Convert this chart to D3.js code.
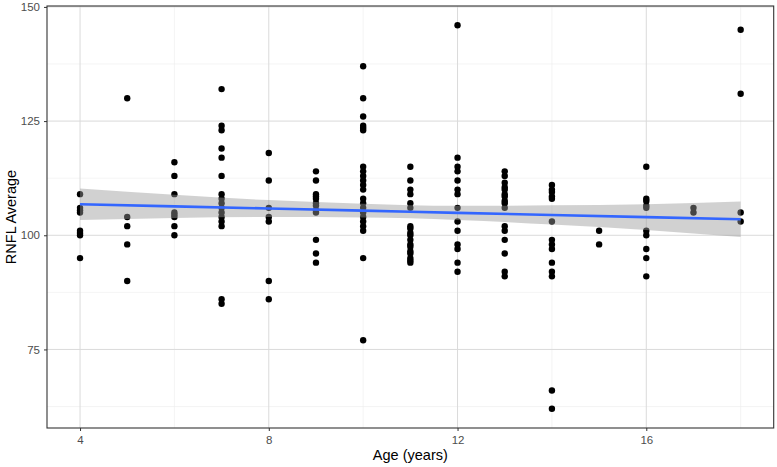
<!DOCTYPE html>
<html>
<head>
<meta charset="utf-8">
<script src="https://cdn.jsdelivr.net/npm/d3@7"></script>
<style>
  body { margin: 0; background: #fff; }
  svg { font-family: "Liberation Sans", Arial, sans-serif; }
</style>
</head>
<body>
<div id="chart"></div>
<script>
// RNFL average readings grouped by age (years)
const ages = [4, 5, 6, 7, 8, 9, 10, 11, 12, 13, 14, 15, 16, 17, 18];
const rnflByAge = [
  [109, 106, 105.5, 105, 101, 100.5, 100, 95],
  [130, 104, 102, 98, 90],
  [116, 113, 109, 105, 104.5, 104, 102, 100],
  [132, 124, 123, 119, 117, 113, 109, 108, 107, 106, 105, 104, 103, 102, 86, 85],
  [118, 112, 106, 104, 103, 90, 86],
  [114, 112, 109, 108.5, 108, 107, 106.5, 105.5, 105, 99, 96, 94],
  [137, 130, 126, 124, 123.5, 123, 115, 114, 113, 112, 111, 110, 108, 107, 106, 105, 104, 103, 102, 101, 95, 77],
  [115, 112, 110, 109, 107, 106, 102, 101.5, 100.5, 100, 99, 98, 97.5, 96.5, 96, 95, 94.5, 94],
  [146, 117, 115, 114, 112, 110, 109, 106, 103, 101, 98, 97, 94, 92],
  [114, 113, 111.5, 110.5, 110, 109, 108.5, 107.5, 107, 106, 102, 101, 99, 96, 92, 91],
  [111, 110, 109.5, 108.5, 108, 103, 99, 98, 97, 94, 92, 91, 66, 62],
  [101, 98],
  [115, 108, 107.5, 106.5, 106, 101, 100, 97, 95, 91],
  [106, 105],
  [145, 131, 105, 103]
];

// linear smooth (lm) and its 95% band
const fitAges = [4, 6, 8, 10, 11, 12, 14, 16, 18];
const fitValue = [106.8, 106.33, 105.86, 105.39, 105.15, 104.91, 104.44, 103.97, 103.5];
const fitLower = [103.35, 103.8, 104.0, 103.9, 103.7, 103.35, 102.35, 101.15, 99.6];
const fitUpper = [110.25, 108.85, 107.7, 106.9, 106.6, 106.45, 106.55, 106.8, 107.4];

const xTicks = [4, 8, 12, 16];
const xMinor = [6, 10, 14, 18];
const yTicks = [75, 100, 125, 150];
const yMinor = [62.5, 87.5, 112.5, 137.5];

const data = [];
ages.forEach((a, i) => rnflByAge[i].forEach(v => data.push({ age: a, rnfl: v })));
const fit = fitAges.map((a, i) => ({ x: a, y: fitValue[i], lo: fitLower[i], hi: fitUpper[i] }));

const W = 777, H = 467;
const margin = { top: 6, right: 3.3, bottom: 39, left: 47 };
const width = W - margin.left - margin.right;
const height = H - margin.top - margin.bottom;

const svg = d3.select("#chart").append("svg")
  .attr("width", W)
  .attr("height", H);

const g = svg.append("g")
  .attr("transform", `translate(${margin.left},${margin.top})`);

// ggplot-like expanded domains
const xr = d3.extent(data, d => d.age);
const yr = d3.extent(data, d => d.rnfl);
const xPad = (xr[1] - xr[0]) * 0.05, yPad = (yr[1] - yr[0]) * 0.05;

const x = d3.scaleLinear().domain([xr[0] - xPad, xr[1] + xPad]).range([0, width]);
const y = d3.scaleLinear().domain([yr[0] - yPad, yr[1] + yPad]).range([height, 0]);

// grid
g.selectAll(".ymin").data(yMinor).join("line")
  .attr("x1", 0).attr("x2", width)
  .attr("y1", d => y(d)).attr("y2", d => y(d))
  .attr("stroke", "#ececec").attr("stroke-width", 0.6);
g.selectAll(".xmin").data(xMinor).join("line")
  .attr("y1", 0).attr("y2", height)
  .attr("x1", d => x(d)).attr("x2", d => x(d))
  .attr("stroke", "#ececec").attr("stroke-width", 0.6);
g.selectAll(".ymaj").data(yTicks).join("line")
  .attr("x1", 0).attr("x2", width)
  .attr("y1", d => y(d)).attr("y2", d => y(d))
  .attr("stroke", "#dadada").attr("stroke-width", 1);
g.selectAll(".xmaj").data(xTicks).join("line")
  .attr("y1", 0).attr("y2", height)
  .attr("x1", d => x(d)).attr("x2", d => x(d))
  .attr("stroke", "#dadada").attr("stroke-width", 1);

// points
g.selectAll(".pt").data(data).join("circle")
  .attr("cx", d => x(d.age))
  .attr("cy", d => y(d.rnfl))
  .attr("r", 3.2)
  .attr("fill", "#000");

// smooth band + line
g.append("path")
  .datum(fit)
  .attr("fill", "#999999")
  .attr("fill-opacity", 0.45)
  .attr("d", d3.area().curve(d3.curveMonotoneX)
    .x(d => x(d.x)).y0(d => y(d.lo)).y1(d => y(d.hi)));

g.append("path")
  .datum(fit)
  .attr("fill", "none")
  .attr("stroke", "#3366FF")
  .attr("stroke-width", 2.6)
  .attr("d", d3.line().x(d => x(d.x)).y(d => y(d.y)));

// panel border
g.append("rect")
  .attr("width", width).attr("height", height)
  .attr("fill", "none").attr("stroke", "#333").attr("stroke-width", 1.1);

// axes
const xAxis = g.append("g")
  .attr("transform", `translate(0,${height})`)
  .call(d3.axisBottom(x).tickValues(xTicks).tickSize(3).tickPadding(5));
const yAxis = g.append("g")
  .call(d3.axisLeft(y).tickValues(yTicks).tickSize(3).tickPadding(4));
[xAxis, yAxis].forEach(a => {
  a.select(".domain").remove();
  a.selectAll(".tick line").attr("stroke", "#333");
  a.selectAll(".tick text")
    .attr("fill", "#4d4d4d")
    .style("font-size", "11.5px")
    .style("font-family", "'Liberation Sans', Arial, sans-serif");
});

svg.append("text")
  .attr("x", margin.left + width / 2)
  .attr("y", H - 7)
  .attr("text-anchor", "middle")
  .style("font-size", "14.5px")
  .text("Age (years)");

svg.append("text")
  .attr("transform", `translate(16,${margin.top + height / 2}) rotate(-90)`)
  .attr("text-anchor", "middle")
  .style("font-size", "14.5px")
  .text("RNFL Average");
</script>
</body>
</html>
